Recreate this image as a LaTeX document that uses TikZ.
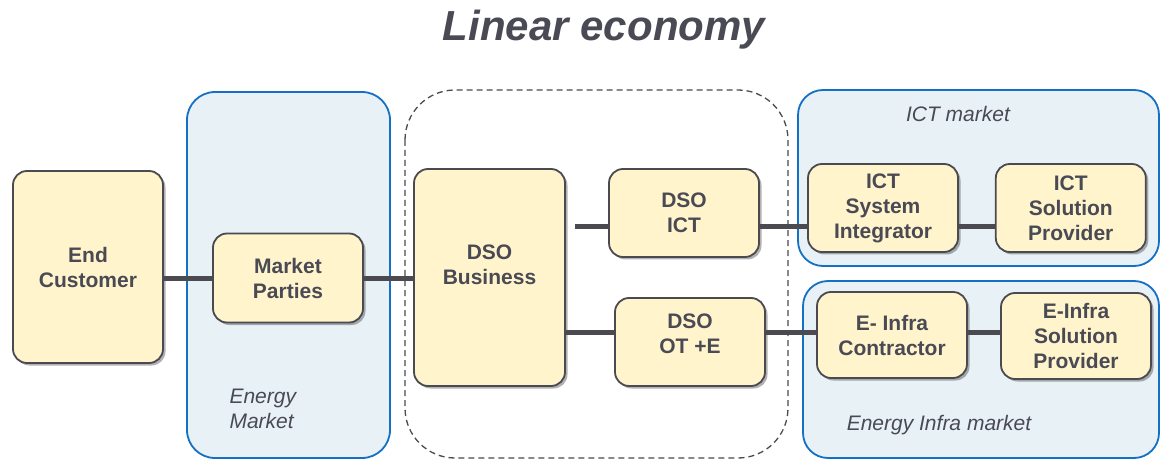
\documentclass[tikz,border=0pt]{standalone}
\usepackage{fontspec}
\setmainfont{Liberation Sans}
\usepackage{tikz}
\usetikzlibrary{shadows,positioning,calc}
\pgfdeclarelayer{background}
\pgfsetlayers{background,main}

\definecolor{boxfill}{HTML}{FFF4CC}
\definecolor{boxline}{HTML}{4A4A50}
\definecolor{inkgray}{HTML}{4A4A55}
\definecolor{zonefill}{HTML}{E8F1F6}
\definecolor{zoneline}{HTML}{1470C4}

\begin{document}
\begin{tikzpicture}[
            x=1pt, y=-1pt,
            actor/.style={draw=boxline, line width=1.8pt, fill=boxfill, rounded corners=14pt,
                minimum width=150pt, minimum height=88pt, align=center, text=inkgray,
                font=\fontsize{21}{25}\selectfont\bfseries,
                drop shadow={shadow xshift=2.5pt, shadow yshift=-2.5pt, opacity=.3, fill=black}},
            zone/.style={draw=zoneline, line width=1.8pt, fill=zonefill, rounded corners=28pt},
            tag/.style={text=inkgray, font=\fontsize{21}{25}\selectfont\itshape, align=left},
            link/.style={draw=boxline, line width=5pt}
        ]
        \useasboundingbox (0,0) rectangle (1161,462);

        % Draw end customer and energy market %
        \node[actor, minimum height=192pt] (cust) at (88,267) {End\\Customer};
        \node[actor, minimum height=89pt] (parties) at (288,278) {Market\\Parties};
        \node[tag, anchor=west] (emkt) at (226,409) {Energy\\Market};

        % Draw DSO %
        \node[actor, minimum width=151pt, minimum height=217pt, text depth=26pt] (busi) at (489.5,277.5) {DSO\\Business};
        \node[actor] (dsoict) at (684,213) {DSO\\ICT};
        \node[actor, text depth=16pt] (dsoote) at (690,342) {DSO\\OT +E};

        % Draw ICT market %
        \node[actor] (integ) at (883,208) {ICT\\System\\Integrator};
        \node[actor, right=36pt of integ] (ictsol) {ICT\\Solution\\Provider};
        \node[tag] (ictmkt) at (958,114) {ICT market};

        % Draw energy infra market %
        \node[actor, minimum height=86pt] (contr) at (892,335) {E- Infra\\Contractor};
        \node[actor, minimum height=86pt] (infsol) at (1076,336) {E-Infra\\Solution\\Provider};
        \node[tag] (infmkt) at (939,425) {Energy Infra market};

        % Draw links %
        \coordinate (ictrow) at ([yshift=-14pt]dsoict.west);
        \coordinate (oterow) at ([yshift=10pt]dsoote.west);
        \draw[link] (cust.east |- parties.west) -- (parties.west);
        \draw[link] (parties.east) -- (parties.east -| busi.west);
        \draw[link, shorten <=9pt] (ictrow -| busi.east) -- (ictrow);
        \draw[link] (ictrow -| dsoict.east) -- (ictrow -| integ.west);
        \draw[link] (ictrow -| integ.east) -- (ictrow -| ictsol.west);
        \draw[link] (oterow -| busi.east) -- (oterow);
        \draw[link] (oterow -| dsoote.east) -- (oterow -| contr.west);
        \draw[link] (oterow -| contr.east) -- (oterow -| infsol.west);

        % Draw market zones %
        \begin{pgfonlayer}{background}
            \draw[zone] (187,92) rectangle (390,458);
            \draw[zone, rounded corners=25pt] (798,90) rectangle (1159,266);
            \draw[zone, rounded corners=25pt] (803,281) rectangle (1159,458);
            \draw[boxline, line width=1.3pt, dash pattern=on 6pt off 4pt, rounded corners=50pt] (405,90) rectangle (788,458);
        \end{pgfonlayer}

        % Title %
        \node[anchor=base, text=inkgray, font=\fontsize{42}{48}\selectfont\bfseries\itshape] (title) at (604,41) {Linear economy};
        \end{tikzpicture}
\end{document}
